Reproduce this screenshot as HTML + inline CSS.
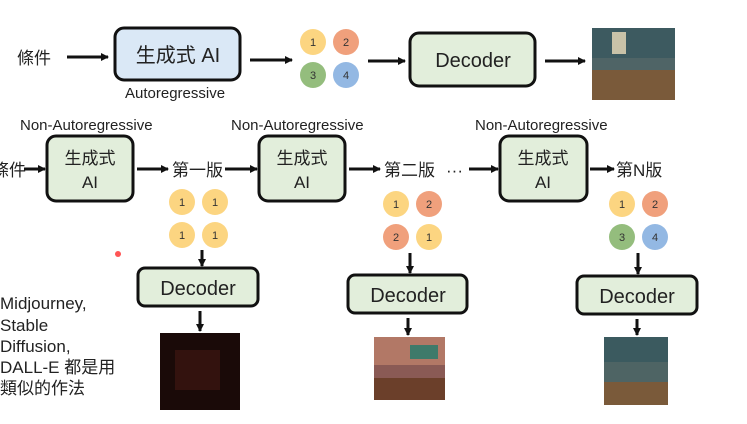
<!DOCTYPE html>
<html><head><meta charset="utf-8"><style>
body{margin:0;width:747px;height:419px;background:#fff;overflow:hidden;font-family:"Liberation Sans","Noto Sans CJK TC",sans-serif;color:#222}
</style></head><body>
<svg width="747" height="419" xmlns="http://www.w3.org/2000/svg" style="font-family:'Liberation Sans','Noto Sans CJK TC',sans-serif">
<defs><marker id="a" markerWidth="8" markerHeight="8" refX="7" refY="4" orient="auto" markerUnits="userSpaceOnUse"><path d="M0,0 L8,4 L0,8 z" fill="#111"/></marker></defs>
<g stroke="#111" stroke-width="3" fill="none" marker-end="url(#a)">
<line x1="67" y1="57" x2="108" y2="57"/>
<line x1="250" y1="60" x2="292" y2="60"/>
<line x1="368" y1="61" x2="405" y2="61"/>
<line x1="545" y1="61" x2="585" y2="61"/>
<line x1="24" y1="169" x2="45" y2="169"/>
<line x1="137" y1="169" x2="168" y2="169"/>
<line x1="225" y1="169" x2="257" y2="169"/>
<line x1="349" y1="169" x2="380" y2="169"/>
<line x1="469" y1="169" x2="498" y2="169"/>
<line x1="590" y1="169" x2="614" y2="169"/>
<line x1="202" y1="250" x2="202" y2="266"/>
<line x1="410" y1="253" x2="410" y2="273"/>
<line x1="638" y1="253" x2="638" y2="274"/>
<line x1="200" y1="311" x2="200" y2="331"/>
<line x1="408" y1="318" x2="408" y2="335"/>
<line x1="637" y1="319" x2="637" y2="335"/>
</g>
<g stroke="#111" stroke-width="3">
<rect x="115" y="28" width="125" height="52" rx="9" fill="#dae8f6"/>
<rect x="410" y="33" width="125" height="53" rx="9" fill="#e2eedb"/>
<rect x="47" y="136" width="86" height="65" rx="9" fill="#e2eedb"/>
<rect x="259" y="136" width="86" height="65" rx="9" fill="#e2eedb"/>
<rect x="500" y="136" width="87" height="65" rx="9" fill="#e2eedb"/>
<rect x="138" y="268" width="120" height="38" rx="7" fill="#e2eedb"/>
<rect x="348" y="275" width="119" height="38" rx="7" fill="#e2eedb"/>
<rect x="577" y="276" width="120" height="38" rx="7" fill="#e2eedb"/>
</g>
<g font-size="20" text-anchor="middle" fill="#222">
<text x="178" y="62">生成式 AI</text>
<text x="473" y="67">Decoder</text>
<text x="90" y="164" font-size="17">生成式</text><text x="90" y="188" font-size="17">AI</text>
<text x="302" y="164" font-size="17">生成式</text><text x="302" y="188" font-size="17">AI</text>
<text x="543" y="164" font-size="17">生成式</text><text x="543" y="188" font-size="17">AI</text>
<text x="198" y="295">Decoder</text>
<text x="408" y="302">Decoder</text>
<text x="637" y="303">Decoder</text>
</g>
<g font-size="15" fill="#222">
<text x="125" y="98">Autoregressive</text>
<text x="20" y="130">Non-Autoregressive</text>
<text x="231" y="130">Non-Autoregressive</text>
<text x="475" y="130">Non-Autoregressive</text>
</g>
<g font-size="17" fill="#222">
<text x="17" y="64">條件</text>
<text x="-8" y="176">條件</text>
<text x="172" y="176">第一版</text>
<text x="384" y="176">第二版</text>
<text x="446" y="176">···</text>
<text x="616" y="176">第N版</text>
<text x="0" y="309">Midjourney,</text>
<text x="0" y="331">Stable</text>
<text x="0" y="352">Diffusion,</text>
<text x="0" y="373">DALL-E 都是用</text>
<text x="0" y="394">類似的作法</text>
</g>
<g font-size="11" text-anchor="middle" fill="#333">
<circle cx="313" cy="42" r="13" fill="#fcd581"/><text x="313" y="46">1</text>
<circle cx="346" cy="42" r="13" fill="#f0a07c"/><text x="346" y="46">2</text>
<circle cx="313" cy="75" r="13" fill="#94bd7d"/><text x="313" y="79">3</text>
<circle cx="346" cy="75" r="13" fill="#93b8e3"/><text x="346" y="79">4</text>
<circle cx="182" cy="202" r="13" fill="#fcd581"/><text x="182" y="206">1</text>
<circle cx="215" cy="202" r="13" fill="#fcd581"/><text x="215" y="206">1</text>
<circle cx="182" cy="235" r="13" fill="#fcd581"/><text x="182" y="239">1</text>
<circle cx="215" cy="235" r="13" fill="#fcd581"/><text x="215" y="239">1</text>
<circle cx="396" cy="204" r="13" fill="#fcd581"/><text x="396" y="208">1</text>
<circle cx="429" cy="204" r="13" fill="#f0a07c"/><text x="429" y="208">2</text>
<circle cx="396" cy="237" r="13" fill="#f0a07c"/><text x="396" y="241">2</text>
<circle cx="429" cy="237" r="13" fill="#fcd581"/><text x="429" y="241">1</text>
<circle cx="622" cy="204" r="13" fill="#fcd581"/><text x="622" y="208">1</text>
<circle cx="655" cy="204" r="13" fill="#f0a07c"/><text x="655" y="208">2</text>
<circle cx="622" cy="237" r="13" fill="#94bd7d"/><text x="622" y="241">3</text>
<circle cx="655" cy="237" r="13" fill="#93b8e3"/><text x="655" y="241">4</text>
</g>
<circle cx="118" cy="254" r="3" fill="#f55"/>
<!-- images -->
<rect x="592" y="28" width="83" height="72" fill="#4f6466"/>
<rect x="592" y="28" width="83" height="30" fill="#3d5a60"/>
<rect x="612" y="32" width="14" height="22" fill="#c9c2a8"/>
<rect x="592" y="70" width="83" height="30" fill="#7a5a3a"/>
<rect x="160" y="333" width="80" height="77" fill="#1a0a08"/>
<rect x="175" y="350" width="45" height="40" fill="#3a1410" opacity="0.8"/>
<rect x="374" y="337" width="71" height="63" fill="#8a5a55"/>
<rect x="374" y="337" width="71" height="28" fill="#b27866"/>
<rect x="410" y="345" width="28" height="14" fill="#3e7a6a"/>
<rect x="374" y="378" width="71" height="22" fill="#6b3f2a"/>
<rect x="604" y="337" width="64" height="68" fill="#4e6464"/>
<rect x="604" y="337" width="64" height="25" fill="#3b5a5f"/>
<rect x="604" y="382" width="64" height="23" fill="#7a5a3a"/>
</svg>
</body></html>
